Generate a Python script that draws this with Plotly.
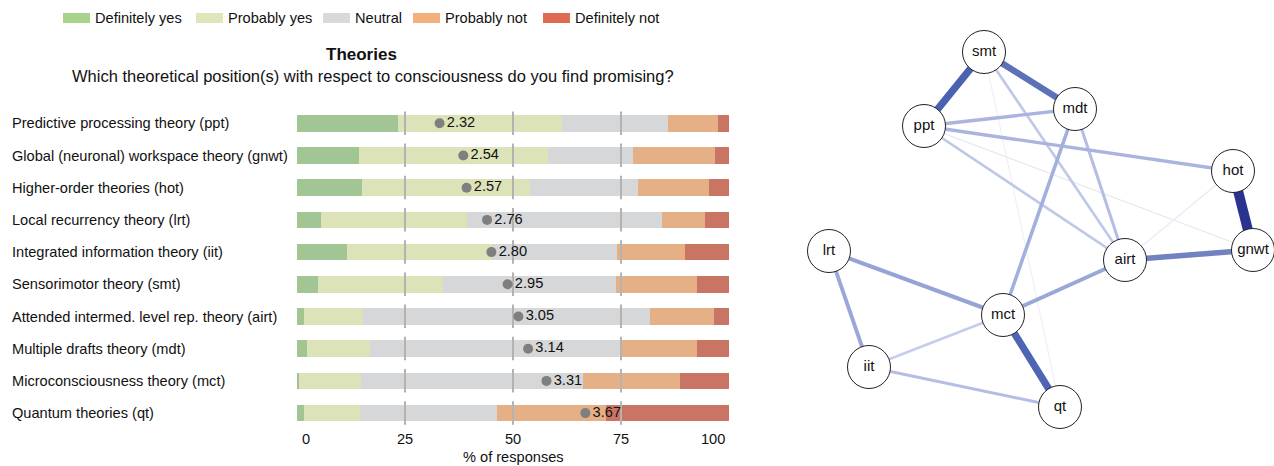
import plotly.graph_objects as go
from plotly.colors import sample_colorscale

W, H = 1274, 466
FONT = "Liberation Sans, Arial, Helvetica, sans-serif"
FS = 14.6

# ---------------- data: Likert bars ----------------
theories = [
    "Predictive processing theory (ppt)",
    "Global (neuronal) workspace theory (gnwt)",
    "Higher-order theories (hot)",
    "Local recurrency theory (lrt)",
    "Integrated information theory (iit)",
    "Sensorimotor theory (smt)",
    "Attended intermed. level rep. theory (airt)",
    "Multiple drafts theory (mdt)",
    "Microconsciousness theory (mct)",
    "Quantum theories (qt)",
]
responses = ["Definitely yes", "Probably yes", "Neutral", "Probably not", "Definitely not"]
definitely_yes = [23.4, 14.4, 15.0, 5.6, 11.6, 4.9, 1.6, 2.3, 0.5, 1.6]
probably_yes = [37.9, 43.6, 38.9, 33.8, 33.5, 28.9, 13.7, 14.6, 14.3, 13.0]
neutral = [24.5, 19.7, 25.0, 45.0, 29.0, 40.0, 66.4, 58.1, 51.3, 31.7]
probably_not = [11.6, 19.1, 16.5, 10.0, 15.7, 18.8, 14.8, 17.6, 22.6, 25.2]
definitely_not = [2.6, 3.2, 4.6, 5.6, 10.2, 7.4, 3.5, 7.4, 11.3, 28.5]
mean_scores = [2.32, 2.54, 2.57, 2.76, 2.80, 2.95, 3.05, 3.14, 3.31, 3.67]
x_ticks = [0, 25, 50, 75, 100]
grid_ticks = [25, 50, 75]

# ---------------- data: network ----------------
nodes = ["smt", "mdt", "ppt", "hot", "gnwt", "airt", "lrt", "mct", "iit", "qt"]
layout_x = [984, 1075, 924, 1233, 1253, 1125, 829, 1003, 869, 1060]
layout_y = [52, 109, 126, 171, 250, 260, 251, 315, 367, 407]
edge_from = ["hot", "smt", "mct", "smt", "airt", "lrt", "lrt", "mct", "mct", "ppt",
             "ppt", "iit", "mdt", "smt", "ppt", "iit", "ppt", "hot", "smt"]
edge_to = ["gnwt", "ppt", "qt", "mdt", "gnwt", "mct", "iit", "airt", "mdt", "mdt",
           "hot", "qt", "airt", "airt", "airt", "mct", "gnwt", "airt", "qt"]
edge_weight = [1.0, 0.72, 0.70, 0.62, 0.52, 0.36, 0.34, 0.34, 0.31, 0.29,
               0.29, 0.25, 0.25, 0.21, 0.21, 0.19, 0.05, 0.04, 0.02]

# ---------------- styles ----------------
bar_colors = ["#a2c693", "#dde3b9", "#d6d7d9", "#e5b086", "#ca7563"]
legend_colors = ["#a6d38d", "#dfe6bb", "#d9d9db", "#f4b07b", "#e06b52"]
edge_scale = [[0.0, "#f0f0f5"], [0.2, "#c3cbea"], [0.35, "#97a5d7"],
              [0.55, "#6a7cc0"], [0.72, "#4a62b0"], [1.0, "#2b3390"]]

fig = go.Figure()

series = [definitely_yes, probably_yes, neutral, probably_not, definitely_not]
rows = list(range(len(theories)))
base = [0.0] * len(theories)
for name, vals, col in zip(responses, series, bar_colors):
    fig.add_trace(go.Bar(
        y=rows, x=vals, base=list(base), orientation="h", width=0.52,
        marker=dict(color=col, line=dict(width=0)), name=name,
        showlegend=False, hoverinfo="skip", xaxis="x", yaxis="y"))
    base = [b + v for b, v in zip(base, vals)]

# grid segments per row
gx, gy = [], []
for t in grid_ticks:
    for r in rows:
        gx += [t, t, None]
        gy += [r - 0.37, r + 0.36, None]
fig.add_trace(go.Scatter(x=gx, y=gy, mode="lines", line=dict(color="#b3b3b3", width=2),
                         hoverinfo="skip", showlegend=False, xaxis="x", yaxis="y"))

# mean dots
fig.add_trace(go.Scatter(
    x=[(m - 1) * 25 for m in mean_scores], y=rows, mode="markers+text",
    marker=dict(size=10, color="#7f7f7f"),
    text=[f"{m:.2f}" for m in mean_scores], textposition="middle right",
    textfont=dict(size=FS, color="#111111", family=FONT),
    hoverinfo="skip", showlegend=False, xaxis="x", yaxis="y", cliponaxis=False))

# network edges
pos = {n: (x, y) for n, x, y in zip(nodes, layout_x, layout_y)}
order = sorted(range(len(edge_weight)), key=lambda i: edge_weight[i])
for i in order:
    a, b, w = edge_from[i], edge_to[i], edge_weight[i]
    col = sample_colorscale(edge_scale, [w])[0]
    fig.add_trace(go.Scatter(
        x=[pos[a][0], pos[b][0]], y=[pos[a][1], pos[b][1]], mode="lines",
        line=dict(color=col, width=0.7 + 9.3 * w), hoverinfo="skip",
        showlegend=False, xaxis="x2", yaxis="y2"))

fig.add_trace(go.Scatter(
    x=layout_x, y=layout_y, mode="markers+text", text=nodes,
    textposition="middle center", textfont=dict(size=15, color="#111111", family=FONT),
    marker=dict(size=43, color="white", line=dict(color="#222222", width=1)),
    hoverinfo="skip", showlegend=False, xaxis="x2", yaxis="y2"))

annotations = []
for r, lab in zip(rows, theories):
    annotations.append(dict(text=lab, x=10 / W, xref="paper", xanchor="left",
                            y=r, yref="y", yanchor="middle", showarrow=False,
                            font=dict(size=FS, color="#111111", family=FONT)))
for t in x_ticks:
    anchor = "left" if t == 0 else ("right" if t == 100 else "center")
    shift = 3 if t == 0 else (-2 if t == 100 else 0)
    annotations.append(dict(text=str(t), x=t, xref="x", xanchor=anchor, xshift=shift,
                            y=1 - 439 / H, yref="paper", yanchor="middle", showarrow=False,
                            font=dict(size=FS, color="#111111", family=FONT)))
annotations.append(dict(text="% of responses", x=50, xref="x", xanchor="center",
                        y=1 - 457 / H, yref="paper", yanchor="middle", showarrow=False,
                        font=dict(size=FS, color="#111111", family=FONT)))
annotations.append(dict(text="<b>Theories</b>", x=361 / W, xref="paper", xanchor="center",
                        y=1 - 54 / H, yref="paper", yanchor="middle", showarrow=False,
                        font=dict(size=17, color="#111111", family=FONT)))
annotations.append(dict(text="Which theoretical position(s) with respect to consciousness do you find promising?",
                        x=373 / W, xref="paper", xanchor="center",
                        y=1 - 76 / H, yref="paper", yanchor="middle", showarrow=False,
                        font=dict(size=16.5, color="#111111", family=FONT)))

# manual legend
shapes = []
legend_x = [63, 196, 323, 413, 543]
for lx, name, col in zip(legend_x, responses, legend_colors):
    shapes.append(dict(type="rect", xref="paper", yref="paper",
                       x0=lx / W, x1=(lx + 27) / W, y0=1 - 23 / H, y1=1 - 13 / H,
                       fillcolor=col, line=dict(width=0)))
    annotations.append(dict(text=name, x=(lx + 30) / W, xref="paper", xanchor="left",
                            y=1 - 18 / H, yref="paper", yanchor="middle", showarrow=False,
                            font=dict(size=FS, color="#111111", family=FONT)))

row_h = 32.2
top = 123.3 - row_h / 2
bottom = top + row_h * len(theories)

fig.update_layout(
    width=W, height=H, margin=dict(l=0, r=0, t=0, b=0),
    paper_bgcolor="white", plot_bgcolor="white", barmode="stack",
    font=dict(family=FONT, color="#111111"),
    xaxis=dict(domain=[297 / W, 729 / W], range=[0, 100], showgrid=False, zeroline=False,
               showticklabels=False, showline=False, fixedrange=True),
    yaxis=dict(domain=[1 - bottom / H, 1 - top / H], range=[len(theories) - 0.5, -0.5],
               showgrid=False, zeroline=False, showticklabels=False, showline=False),
    xaxis2=dict(domain=[780 / W, 1], range=[780, W], showgrid=False, zeroline=False,
                showticklabels=False, showline=False, anchor="y2"),
    yaxis2=dict(domain=[0, 1], range=[H, 0], showgrid=False, zeroline=False,
                showticklabels=False, showline=False, anchor="x2"),
    annotations=annotations, shapes=shapes, showlegend=False,
)

fig.write_html("out.html", config={"displayModeBar": False},
               post_script="document.body.style.margin='0';document.body.style.overflow='hidden';")
